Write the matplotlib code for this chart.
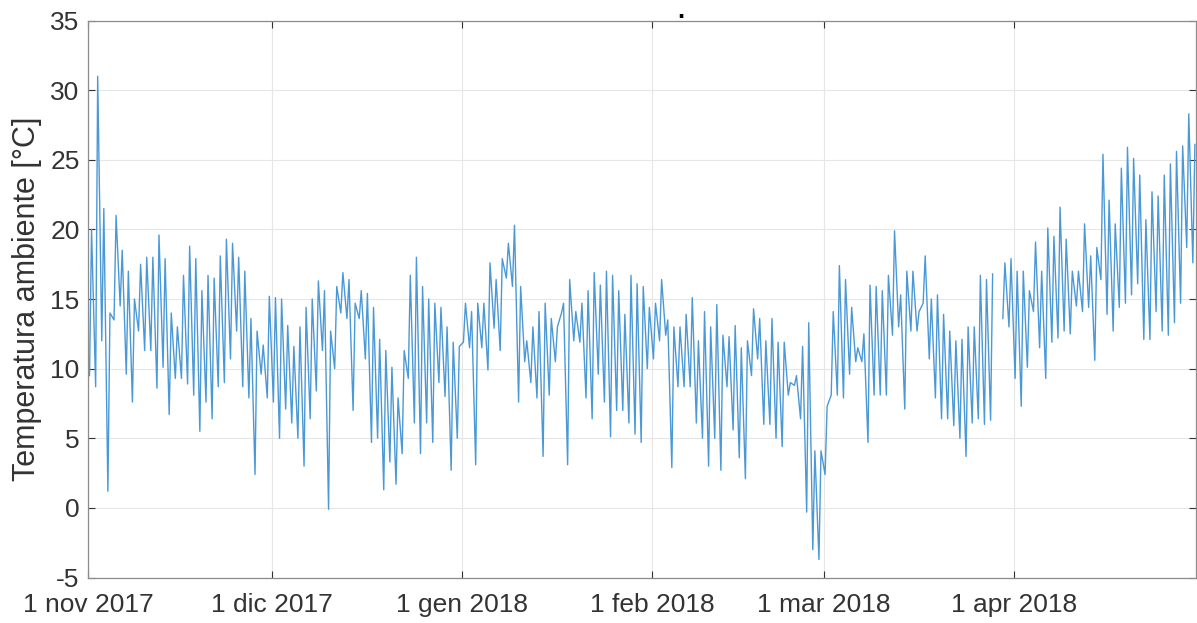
import numpy as np
import pandas as pd
import matplotlib
matplotlib.use('Agg')
import matplotlib.pyplot as plt
import matplotlib.dates as mdates

nan = np.nan

# daily max / min ambient temperature, one value per day
nov_max = [20, 31, 21.5, 14, 21, 18.5, 17, 15, 17.5, 18, 18, 19.6, 17.9, 14, 13,
           16.7, 18.8, 17.9, 15.6, 16.7, 16.5, 18.1, 19.3, 19, 18, 17, 13.6, 12.7, 11.7, 15.2]
nov_min = [9.5, 8.7, 12, 1.2, 13.5, 14.5, 9.6, 7.6, 12.7, 11.3, 11.3, 8.6, 10.1, 6.7, 9.3,
           9.3, 8.9, 8.1, 5.5, 7.6, 6.4, 8.7, 9.0, 10.7, 12.7, 8.7, 7.9, 2.4, 9.6, 7.9]
dec_max = [15.1, 15, 13.1, 11.6, 13, 14.4, 15, 16.3, 15.6, 12.7, 15.9, 16.9, 16.4, 14.7, 15.6,
           15.4, 14.4, 12.1, 11.3, 10.1, 7.9, 11.3, 16.7, 18, 15.9, 15, 14.7, 14.4, 13, 11.9, 11.6]
dec_min = [7.6, 5, 7.1, 6.1, 5, 3, 6.4, 8.4, 11.3, -0.1, 10, 14, 13.6, 7, 13.6,
           10.7, 4.7, 5, 1.3, 3.3, 1.7, 3.9, 9.3, 6.1, 3.9, 6.1, 4.7, 9, 8, 2.7, 5]
jan_max = [14.7, 14.1, 14.7, 14.7, 17.6, 16.4, 17.9, 19, 20.3, 15.9, 12, 13, 14.1, 14.7, 13.6,
           13, 14.7, 16.4, 14.1, 14.7, 15.6, 16.9, 16, 17, 16.7, 15.6, 13.9, 16.7, 16.1, 15.9, 14.4]
jan_min = [11.9, 11.5, 3.1, 11.5, 9.9, 12.9, 11.3, 16.5, 15.9, 7.6, 10.5, 9, 7.9, 3.7, 8.1,
           10.5, 14, 3.1, 12, 11.9, 7.9, 6.4, 9.6, 7.6, 5.1, 7, 7, 6.1, 5.3, 4.7, 10]
feb_max = [14.7, 16.4, 13.5, 13, 13, 13.9, 15.1, 12, 14.1, 13, 14.6, 12.4, 12.3, 13.1,
           11.5, 12, 14.3, 13.6, 12, 13.6, 11.9, 11.9, 9, 9.5, 11.6, 13.3, 4.1, 4.1]
feb_min = [10.7, 12, 12.4, 2.9, 8.7, 8.7, 8.7, 6.1, 5, 3, 5, 2.7, 8.7, 5.6,
           3.6, 2.1, 9.5, 10.7, 6, 6, 5, 4.4, 8.1, 8.8, 6.4, -0.3, -3, -3.7]
mar_max = [7.3, 14.1, 17.4, 16.4, 14.4, 11.5, 12.5, 16, 15.9, 15.6, 16.7, 19.9, 15.3, 17, 17,
           14.1, 18.1, 15, 15.3, 13.9, 12.7, 12, 12.1, 13, 13, 16.7, 16.4, 16.8, nan, 17.6, 17.9]
mar_min = [2.4, 8.1, 8.1, 7.9, 9.6, 10.5, 10.5, 4.7, 8.1, 8.1, 8.1, 12.4, 13, 7.1, 12.7,
           12.7, 14.7, 10.7, 7.9, 6.4, 6.4, 5.9, 5, 3.7, 6.1, 6.4, 6, 6.3, nan, 13.6, 13]
apr_max = [17, 17, 15.6, 19.1, 17, 20.1, 19.5, 21.6, 19.3, 17, 17, 20.4, 18.1, 18.7, 25.4,
           22.1, 20.4, 24.4, 25.9, 25.1, 23.9, 20.7, 22.7, 22.4, 23.9, 24.7, 25.6, 26, 28.3, 26.1]
apr_min = [9.3, 7.3, 10.1, 14.1, 11.5, 9.3, 11.9, 12.2, 12.7, 12.5, 14.5, 14.1, 14.4, 10.6, 16.4,
           13.9, 12.7, 14.4, 14.7, 15.3, 16.1, 12.1, 12.1, 14.1, 12.7, 12.4, 13.3, 14.7, 18.7, 17.6]

tick_dates = ['2017-11-01', '2017-12-01', '2018-01-01', '2018-02-01', '2018-03-01', '2018-04-01']
tick_labels = ['1 nov 2017', '1 dic 2017', '1 gen 2018', '1 feb 2018', '1 mar 2018', '1 apr 2018']


def main():
    tmax = nov_max + dec_max + jan_max + feb_max + mar_max + apr_max
    tmin = nov_min + dec_min + jan_min + feb_min + mar_min + apr_min
    days = pd.date_range('2017-11-01', periods=len(tmax), freq='D')

    # min early morning, max in the afternoon
    t = []
    v = []
    for d, lo, hi in zip(days, tmin, tmax):
        t += [d + pd.Timedelta(hours=6), d + pd.Timedelta(hours=14)]
        v += [lo, hi]

    plt.rcParams['font.family'] = ['Liberation Sans', 'DejaVu Sans']
    plt.rcParams['axes.unicode_minus'] = False
    fig = plt.figure(figsize=(11.97, 6.23), dpi=100)
    ax = fig.add_axes([0.0735, 0.073, 0.9256, 0.894])

    ax.plot(t, v, color='#4a98d6', lw=1.0)

    ax.set_xlim(pd.Timestamp('2017-11-01'), pd.Timestamp('2018-04-30 18:00'))
    ax.set_ylim(-5, 35)
    ax.set_yticks(range(-5, 36, 5))
    ax.set_xticks([mdates.date2num(pd.Timestamp(s)) for s in tick_dates])
    ax.set_xticklabels(tick_labels)

    ax.grid(True, color='#e6e6e6', lw=0.8)
    ax.tick_params(direction='in', length=5, width=0.8, top=True, right=True,
                   labelsize=19, colors='#333333')
    ax.tick_params(axis='x', pad=11)
    ax.tick_params(axis='y', pad=6)
    for s in ax.spines.values():
        s.set_color('#8c8c8c')
        s.set_linewidth(0.9)

    ax.set_ylabel('Temperatura ambiente [°C]', fontsize=22, color='#333333', labelpad=6)
    # stray mark of a cut-off title above the frame
    ax.text(0.535, 1.004, '.', transform=ax.transAxes, ha='center', va='baseline',
            fontsize=18, fontweight='bold')

    fig.savefig('out.png', dpi=100)
    plt.close()


if __name__ == '__main__':
    main()
